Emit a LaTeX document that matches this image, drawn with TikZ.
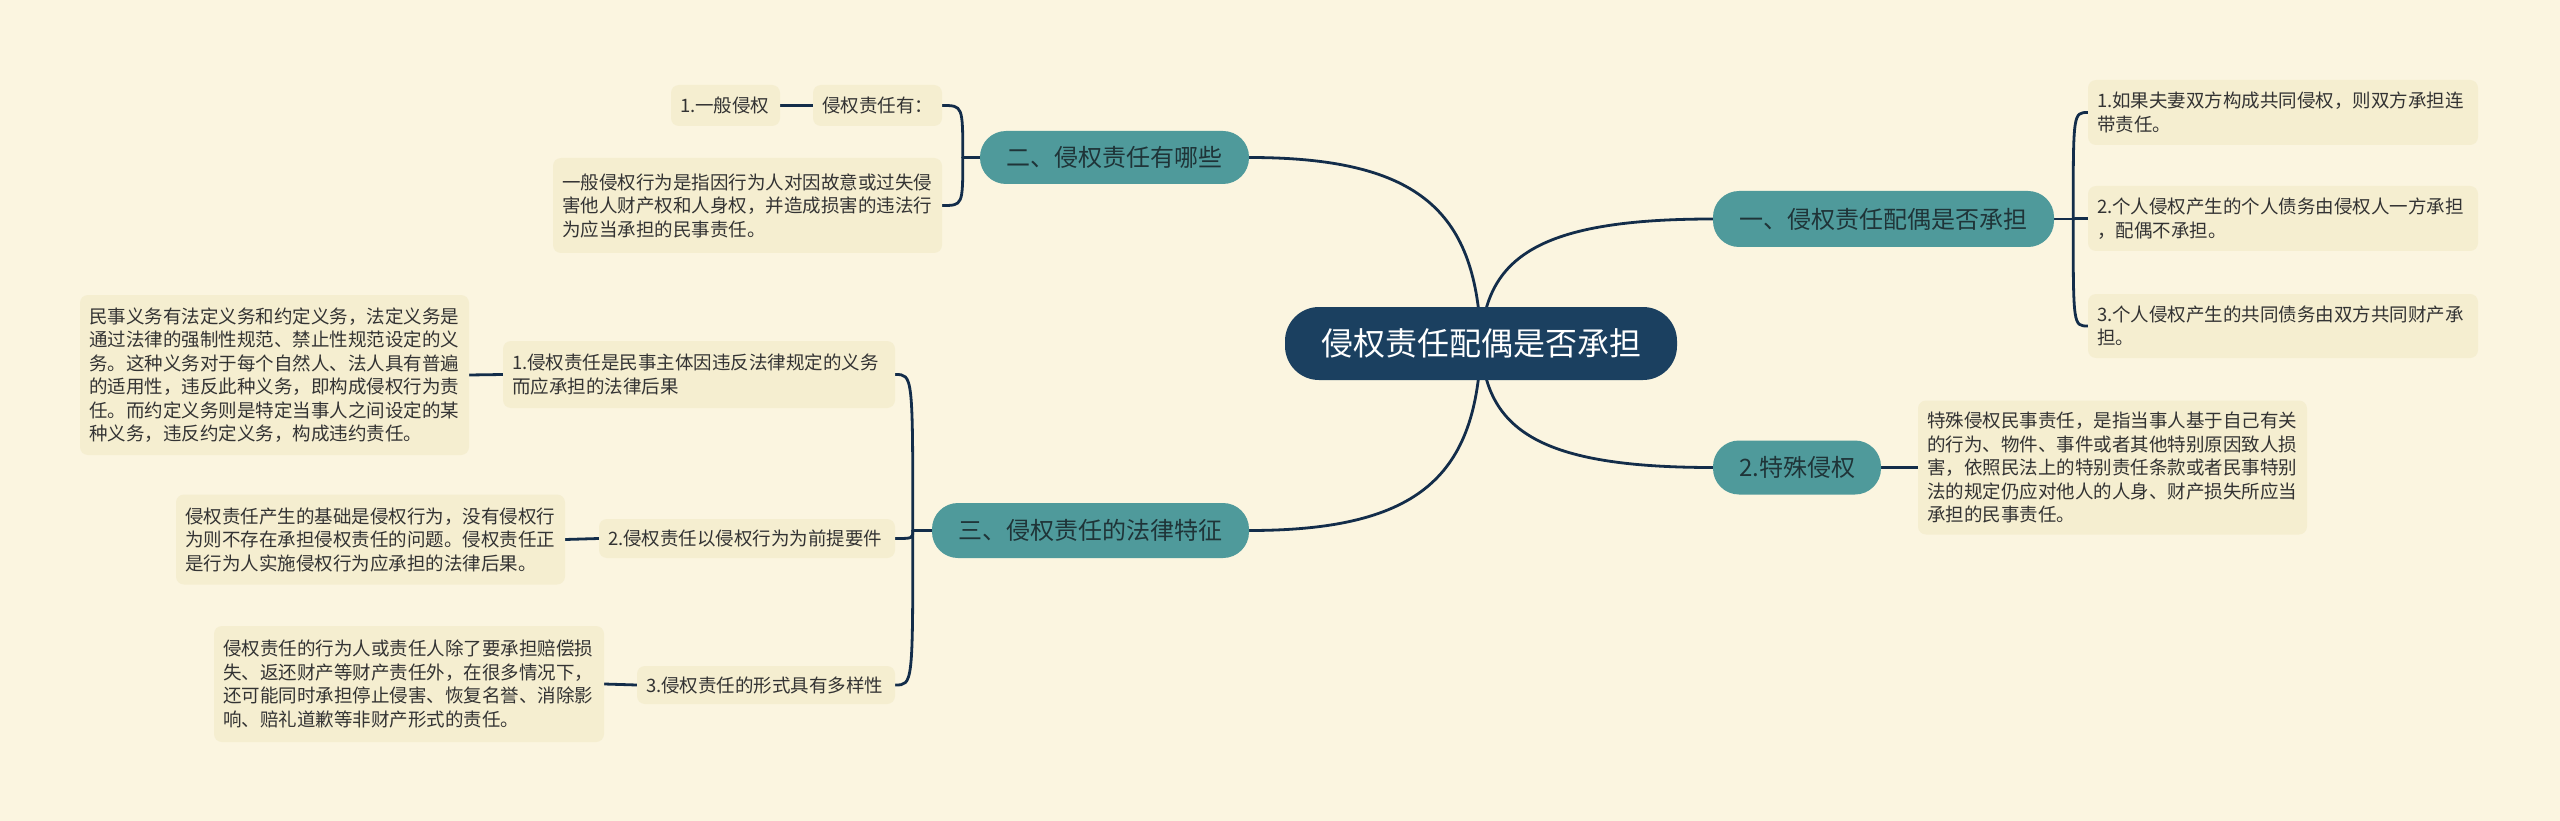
\documentclass[tikz,border=0pt]{standalone}
\usepackage{fontspec}
\newfontfamily\cjk{Noto Sans CJK SC}
\usetikzlibrary{backgrounds,calc}
\definecolor{bgc}{HTML}{FBF5E0}
\definecolor{leafc}{HTML}{F5EED0}
\definecolor{leaftext}{HTML}{333333}
\definecolor{tealc}{HTML}{4F9A9B}
\definecolor{tealtext}{HTML}{1F3438}
\definecolor{rootc}{HTML}{1B4060}
\definecolor{linec}{HTML}{132D4A}
\begin{document}
\begin{tikzpicture}[x=1pt,y=-1pt,
  leaf/.style={fill=leafc, rounded corners=8pt, inner xsep=9pt, inner ysep=0pt,
    align=left, font={\cjk\fontsize{18.5}{23.5}\selectfont}, text=leaftext, anchor=center},
  branch/.style={fill=tealc, rounded corners=26pt, inner sep=0pt,
    font={\cjk\fontsize{24}{28}\selectfont}, text=tealtext, anchor=center},
  rootnode/.style={fill=rootc, rounded corners=34pt, inner sep=0pt,
    font={\cjk\fontsize{32}{36}\selectfont}, text=white, anchor=center},
  conn/.style={draw=linec, line width=2.8pt, line cap=round}]
\useasboundingbox (0,0) rectangle (2560,821);

% root
\node[rootnode, minimum width=392pt, minimum height=73pt] (root) at (1481,343.5) {侵权责任配偶是否承担};

% branches
\node[branch, minimum width=341pt, minimum height=56pt] (b1) at (1883.5,219) {一、侵权责任配偶是否承担};
\node[branch, minimum width=168pt, minimum height=54pt] (b4) at (1797,467.5) {2.特殊侵权};
\node[branch, minimum width=269pt, minimum height=53pt] (b2) at (1114.5,157.5) {二、侵权责任有哪些};
\node[branch, minimum width=317pt, minimum height=55pt] (b3) at (1090.5,530.5) {三、侵权责任的法律特征};

% right leaves
\node[leaf, text width=372pt, minimum height=65pt] (r1) at (2283,112.5) {1.如果夫妻双方构成共同侵权，则双方承担连\\带责任。};
\node[leaf, text width=372pt, minimum height=65pt] (r2) at (2283,218.5) {2.个人侵权产生的个人债务由侵权人一方承担\\，配偶不承担。};
\node[leaf, text width=372pt, minimum height=64pt] (r3) at (2283,326) {3.个人侵权产生的共同债务由双方共同财产承\\担。};
\node[leaf, text width=371pt, minimum height=134pt] (r4) at (2112.5,467.5) {特殊侵权民事责任，是指当事人基于自己有关\\的行为、物件、事件或者其他特别原因致人损\\害，依照民法上的特别责任条款或者民事特别\\法的规定仍应对他人的人身、财产损失所应当\\承担的民事责任。};

% left upper leaves
\node[leaf, text width=111pt, minimum height=41pt] (l1) at (877.5,105.5) {侵权责任有：};
\node[leaf, text width=91pt, minimum height=41pt] (l1a) at (725.5,105.5) {1.一般侵权};
\node[leaf, text width=371pt, minimum height=95pt] (l2) at (747.5,205.5) {一般侵权行为是指因行为人对因故意或过失侵\\害他人财产权和人身权，并造成损害的违法行\\为应当承担的民事责任。};

% left lower leaves
\node[leaf, text width=374pt, minimum height=67pt] (m1) at (699,374.5) {1.侵权责任是民事主体因违反法律规定的义务\\而应承担的法律后果};
\node[leaf, text width=371pt, minimum height=160pt] (m1a) at (274.5,375) {民事义务有法定义务和约定义务，法定义务是\\通过法律的强制性规范、禁止性规范设定的义\\务。这种义务对于每个自然人、法人具有普遍\\的适用性，违反此种义务，即构成侵权行为责\\任。而约定义务则是特定当事人之间设定的某\\种义务，违反约定义务，构成违约责任。};
\node[leaf, text width=278pt, minimum height=39pt] (m2) at (747,538.5) {2.侵权责任以侵权行为为前提要件};
\node[leaf, text width=371pt, minimum height=90pt] (m2a) at (370.5,539.5) {侵权责任产生的基础是侵权行为，没有侵权行\\为则不存在承担侵权责任的问题。侵权责任正\\是行为人实施侵权行为应承担的法律后果。};
\node[leaf, text width=240pt, minimum height=38pt] (m3) at (766,685) {3.侵权责任的形式具有多样性};
\node[leaf, text width=372pt, minimum height=116pt] (m3a) at (409,684) {侵权责任的行为人或责任人除了要承担赔偿损\\失、返还财产等财产责任外，在很多情况下，\\还可能同时承担停止侵害、恢复名誉、消除影\\响、赔礼道歉等非财产形式的责任。};

% bracket junctions
\coordinate (j1) at ($(b1.east)+(19,0)$);
\coordinate (j2) at ($(b2.west)+(-17,0)$);
\coordinate (j3) at ($(b3.west)+(-19,0)$);

\begin{scope}[on background layer]
\fill[bgc] (0,0) rectangle (2560,821);
% root to branches
\draw[conn] (root.center) .. controls +(4,-87) and +(-173,0) .. (b1.west);
\draw[conn] (root.center) .. controls +(4,87) and +(-173,0) .. (b4.west);
\draw[conn] (root.center) .. controls +(-4,-130) and +(173,0) .. (b2.east);
\draw[conn] (root.center) .. controls +(-4,130) and +(173,0) .. (b3.east);
% right bracket
\draw[conn] (b1.east) -- (j1);
\draw[conn] (j1) .. controls (j1 |- r1.west) .. (r1.west);
\draw[conn] (j1) .. controls (j1 |- r2.west) .. (r2.west);
\draw[conn] (j1) .. controls (j1 |- r3.west) .. (r3.west);
\draw[conn] (b4.east) -- (r4.west);
% left upper bracket
\draw[conn] (b2.west) -- (j2);
\draw[conn] (j2) .. controls (j2 |- l1.east) .. (l1.east);
\draw[conn] (j2) .. controls (j2 |- l2.east) .. (l2.east);
\draw[conn] (l1.west) -- (l1a.east);
% left lower bracket
\draw[conn] (b3.west) -- (j3);
\draw[conn] (j3) .. controls (j3 |- m1.east) .. (m1.east);
\draw[conn] (j3) .. controls (j3 |- m2.east) .. (m2.east);
\draw[conn] (j3) .. controls (j3 |- m3.east) .. (m3.east);
\draw[conn] (m1.west) -- (m1a.east);
\draw[conn] (m2.west) -- (m2a.east);
\draw[conn] (m3.west) -- (m3a.east);
\end{scope}
\end{tikzpicture}
\end{document}
